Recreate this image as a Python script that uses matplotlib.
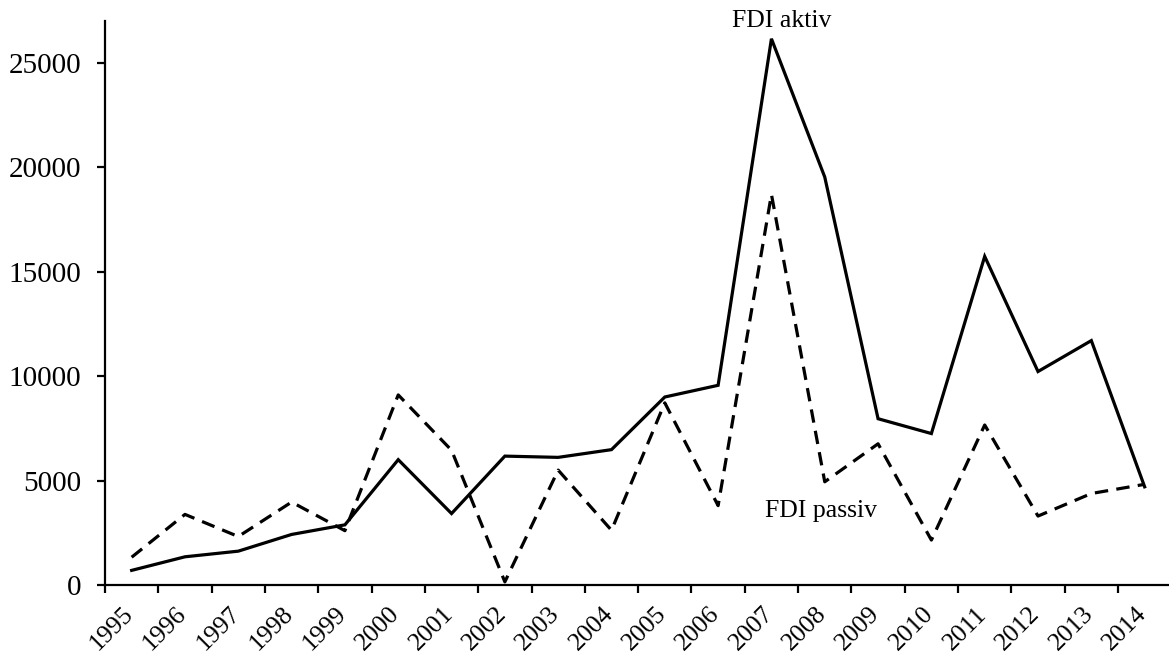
import numpy as np
import matplotlib
matplotlib.use("Agg")
import matplotlib.pyplot as plt
from matplotlib.transforms import ScaledTranslation

years = [str(y) for y in range(1995, 2015)]
fdi_aktiv = [700, 1350, 1620, 2420, 2880, 6000, 3420, 6170, 6110, 6480,
             9000, 9560, 26150, 19530, 7960, 7250, 15730, 10220, 11700, 4700]
fdi_passiv = [1330, 3380, 2320, 3970, 2600, 9100, 6450, 150, 5500, 2620,
              8720, 3800, 18700, 4940, 6760, 2150, 7660, 3300, 4380, 4820]
y_ticks = [0, 5000, 10000, 15000, 20000, 25000]
label_aktiv = "FDI aktiv"
label_passiv = "FDI passiv"

plt.rcParams['font.family'] = ['Liberation Serif', 'DejaVu Serif']

fig = plt.figure(figsize=(11.69, 6.58), dpi=100)
ax = fig.add_axes([105 / 1169, 73 / 658, 1066.3 / 1169, 564 / 658])

x = np.arange(len(years))
ax.plot(x, fdi_aktiv, color='black', lw=2.3, solid_joinstyle='miter')
ax.plot(x, fdi_passiv, color='black', lw=2.3, dashes=[4.2, 2.6])

ax.set_xlim(-0.5, len(years) - 0.5)
ax.set_ylim(0, 27000)

for s in ['top', 'right']:
    ax.spines[s].set_visible(False)
for s in ['left', 'bottom']:
    ax.spines[s].set_linewidth(1.6)

ax.set_yticks(y_ticks)
ax.set_yticklabels([str(v) for v in y_ticks], fontsize=21)
ax.tick_params(axis='y', direction='out', length=6, width=1.6, pad=11)

# category boundaries as major ticks, labels at centres as minor ticks
ax.set_xticks(np.arange(-0.5, len(years) - 0.5, 1.0))
ax.set_xticklabels([])
ax.tick_params(axis='x', which='major', direction='out', length=5.5, width=1.6)
ax.set_xticks(x, minor=True)
ax.set_xticklabels(years, minor=True, rotation=45, ha='right', fontsize=18.5)
ax.tick_params(axis='x', which='minor', length=0, pad=13)
offset = ScaledTranslation(6 / 100, 0, fig.dpi_scale_trans)
for lab in ax.get_xticklabels(minor=True):
    lab.set_transform(lab.get_transform() + offset)

ax.text(12.2, 26720, label_aktiv, ha='center', va='baseline', fontsize=18.5)
ax.text(12.93, 3256, label_passiv, ha='center', va='baseline', fontsize=18.5)

fig.savefig("out.png", dpi=100)
